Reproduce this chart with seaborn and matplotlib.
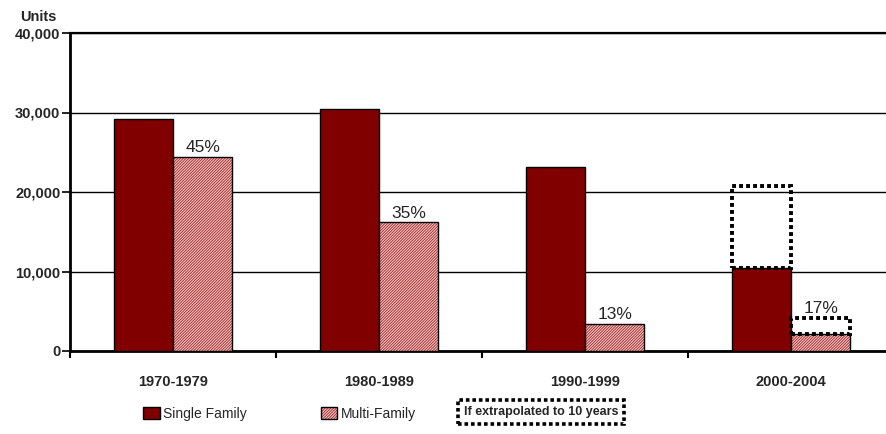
import numpy as np
import pandas as pd
import seaborn as sns
import matplotlib.pyplot as plt
from matplotlib.colors import to_rgba
from matplotlib.ticker import FuncFormatter, FixedLocator

# data
periods = ["1970-1979", "1980-1989", "1990-1999", "2000-2004"]
single_family = [29200, 30400, 23200, 10400]
multi_family = [24400, 16200, 3400, 2100]
pct_labels = ["45%", "35%", "13%", "17%"]
# 2000-2004 covers 5 years, doubled to 10
extrap_period = "2000-2004"
extrap_single = 20800
extrap_multi = 4200

df = pd.DataFrame({
    "period": periods * 2,
    "units": single_family + multi_family,
    "type": ["Single Family"] * 4 + ["Multi-Family"] * 4,
})

sns.set_style("white")
fam = ["Liberation Sans", "DejaVu Sans"]
plt.rcParams["font.family"] = fam
plt.rcParams["hatch.linewidth"] = 0.7

fig = plt.figure(figsize=(8.87, 4.34), dpi=100)
ax = fig.add_axes([70 / 887, 83 / 434, 824 / 887, 318 / 434])

sns.barplot(data=df, x="period", y="units", hue="type", order=periods,
            hue_order=["Single Family", "Multi-Family"],
            palette=["#800000", "#f3d4d4"], width=0.575,
            edgecolor="black", linewidth=1.0, saturation=1, ax=ax,
            legend=False, zorder=3)

single_bars, multi_bars = ax.containers[0], ax.containers[1]
for p in multi_bars:
    p.set_hatch("////////////")
    p._hatch_color = to_rgba("#b02a2a")

k = periods.index(extrap_period)

# percentage labels on the multi-family bars (above the dotted box if any)
for i, (p, lab) in enumerate(zip(multi_bars, pct_labels)):
    top = extrap_multi if i == k else p.get_height()
    ax.text(p.get_x() + p.get_width() / 2, top + 200, lab,
            ha="center", va="bottom", fontsize=12.5, zorder=5)

# dotted "extrapolated" boxes
for bars, top in [(single_bars, extrap_single), (multi_bars, extrap_multi)]:
    p = bars[k]
    ax.bar(p.get_x(), top - p.get_height(), width=p.get_width(),
           bottom=p.get_height(), align="edge", fill=False,
           edgecolor="black", linewidth=2.8, linestyle=(0, (1, 0.8)), zorder=4)

ax.set_ylim(0, 40000)
ax.set_xlim(-0.5, 3.5)
ax.set_yticks([0, 10000, 20000, 30000, 40000])
ax.yaxis.set_major_formatter(FuncFormatter(lambda v, _: f"{int(v):,}"))
ax.grid(axis="y", color="black", linewidth=1.0, zorder=0)
ax.set_axisbelow(True)
ax.set_xlabel("")
ax.set_ylabel("")

for s in ["left", "bottom"]:
    ax.spines[s].set_linewidth(2.0)
    ax.spines[s].set_color("black")
ax.spines["top"].set_linewidth(1.6)
ax.spines["top"].set_color("black")
ax.spines["right"].set_visible(False)

ax.tick_params(axis="y", left=True, length=6, width=1.2, pad=1,
               labelsize=10.5, color="black")
for t in ax.get_yticklabels():
    t.set_fontweight("bold")
ax.tick_params(axis="x", which="major", length=0, pad=17, labelsize=10.5)
for t in ax.get_xticklabels():
    t.set_fontweight("bold")
ax.xaxis.set_minor_locator(FixedLocator([-0.5, 0.5, 1.5, 2.5, 3.5]))
ax.tick_params(axis="x", which="minor", bottom=True, length=5, width=1.5,
               color="black")

fig.text(20 / 887, 1 - 17 / 434, "Units", fontsize=10.5, fontweight="bold",
         va="center", ha="left")

# legend
handles = [single_bars[0], multi_bars[0]]
fig.legend(handles, ["Single Family", "Multi-Family"], loc="center left",
           bbox_to_anchor=(143 / 887, 1 - 414 / 434), ncol=2, frameon=False,
           fontsize=10, handlelength=1.2, handleheight=1.0,
           handletextpad=0.25, columnspacing=5.3, borderpad=0,
           borderaxespad=0)
fig.text(541 / 887, 1 - 412 / 434, "If extrapolated to 10 years",
         ha="center", va="center", fontsize=9, fontweight="bold",
         bbox=dict(boxstyle="square,pad=0.45", facecolor="white",
                   edgecolor="black", linewidth=2.6, linestyle=(0, (1, 0.8))))

fig.savefig("out.png", dpi=100)
